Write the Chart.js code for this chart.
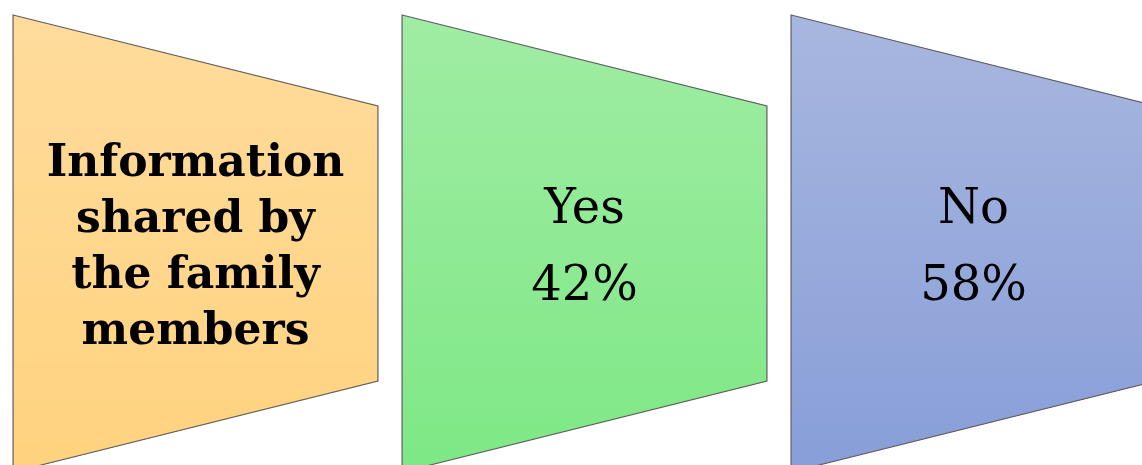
<!DOCTYPE html>
<html><head><meta charset="utf-8">
<script src="https://cdn.jsdelivr.net/npm/chart.js@4.4.1/dist/chart.umd.min.js"></script>
<style>
html,body{margin:0;padding:0;background:#fff;overflow:hidden;width:1142px;height:465px}
#wrap{position:absolute;left:0;top:0;width:1168px;height:480px}
</style>
</head><body><div id="wrap"><canvas id="c"></canvas></div>
<script>
// Categories (multi-line labels), values and panel spans
const categories = [["Information", "shared by", "the family", "members"], ["Yes"], ["No"]];
const percentages = [null, 42, 58];
const panelHeight = [100, 100, 100];
const gradientStops = [["#FFDC9C", "#FFD27E"], ["#A0ECA4", "#7EE885"], ["#A8B7DF", "#889ED8"]];

const TAPER = 0.249; // right-side inset as fraction of panel width

const panelPlugin = {
  id: 'panels',
  beforeDatasetDraw(chart, args) {
    const ctx = chart.ctx;
    args.meta.data.forEach((bar, i) => {
      const p = bar.getProps(['x', 'y', 'base', 'width'], true);
      const left = p.x - p.width / 2, right = p.x + p.width / 2;
      const top = Math.min(p.y, p.base), bottom = Math.max(p.y, p.base);
      const taper = p.width * TAPER;
      const g = ctx.createLinearGradient(0, top, 0, bottom);
      g.addColorStop(0, gradientStops[i][0]);
      g.addColorStop(1, gradientStops[i][1]);
      ctx.save();
      ctx.beginPath();
      ctx.moveTo(left, top);
      ctx.lineTo(right, top + taper);
      ctx.lineTo(right, bottom - taper);
      ctx.lineTo(left, bottom);
      ctx.closePath();
      ctx.fillStyle = g;
      ctx.fill();
      ctx.lineWidth = 1.2;
      ctx.strokeStyle = '#5e5e5e';
      ctx.stroke();

      // text
      let lines, font, size, spacing;
      if (percentages[i] === null) {
        lines = categories[i];
        size = 44; font = 'bold 44px "DejaVu Serif"'; spacing = 56;
      } else {
        lines = [categories[i][0], percentages[i] + '%'];
        size = 48; font = '48px "DejaVu Serif"'; spacing = 77;
      }
      const cy = (top + bottom) / 2;
      const cap = size * 0.73;
      const first = cy - (lines.length - 1) * spacing / 2 + cap / 2;
      ctx.font = font;
      ctx.fillStyle = '#000';
      ctx.textAlign = 'center';
      ctx.textBaseline = 'alphabetic';
      lines.forEach((t, k) => ctx.fillText(t, p.x, first + k * spacing));
      ctx.restore();
    });
    return false;
  }
};

new Chart(document.getElementById('c'), {
  type: 'bar',
  data: {
    labels: categories,
    datasets: [{
      data: panelHeight,
      backgroundColor: 'rgba(0,0,0,0)',
      borderWidth: 0,
      barPercentage: 0.938,
      categoryPercentage: 1
    }]
  },
  options: {
    responsive: true,
    maintainAspectRatio: false,
    animation: false,
    layout: { padding: { left: 1, right: 0, top: 15, bottom: 8 } },
    plugins: { legend: { display: false }, tooltip: { enabled: false } },
    scales: {
      x: { display: false, offset: true },
      y: { display: false, min: 0, max: 100 }
    }
  },
  plugins: [panelPlugin]
});
</script>
</body></html>
